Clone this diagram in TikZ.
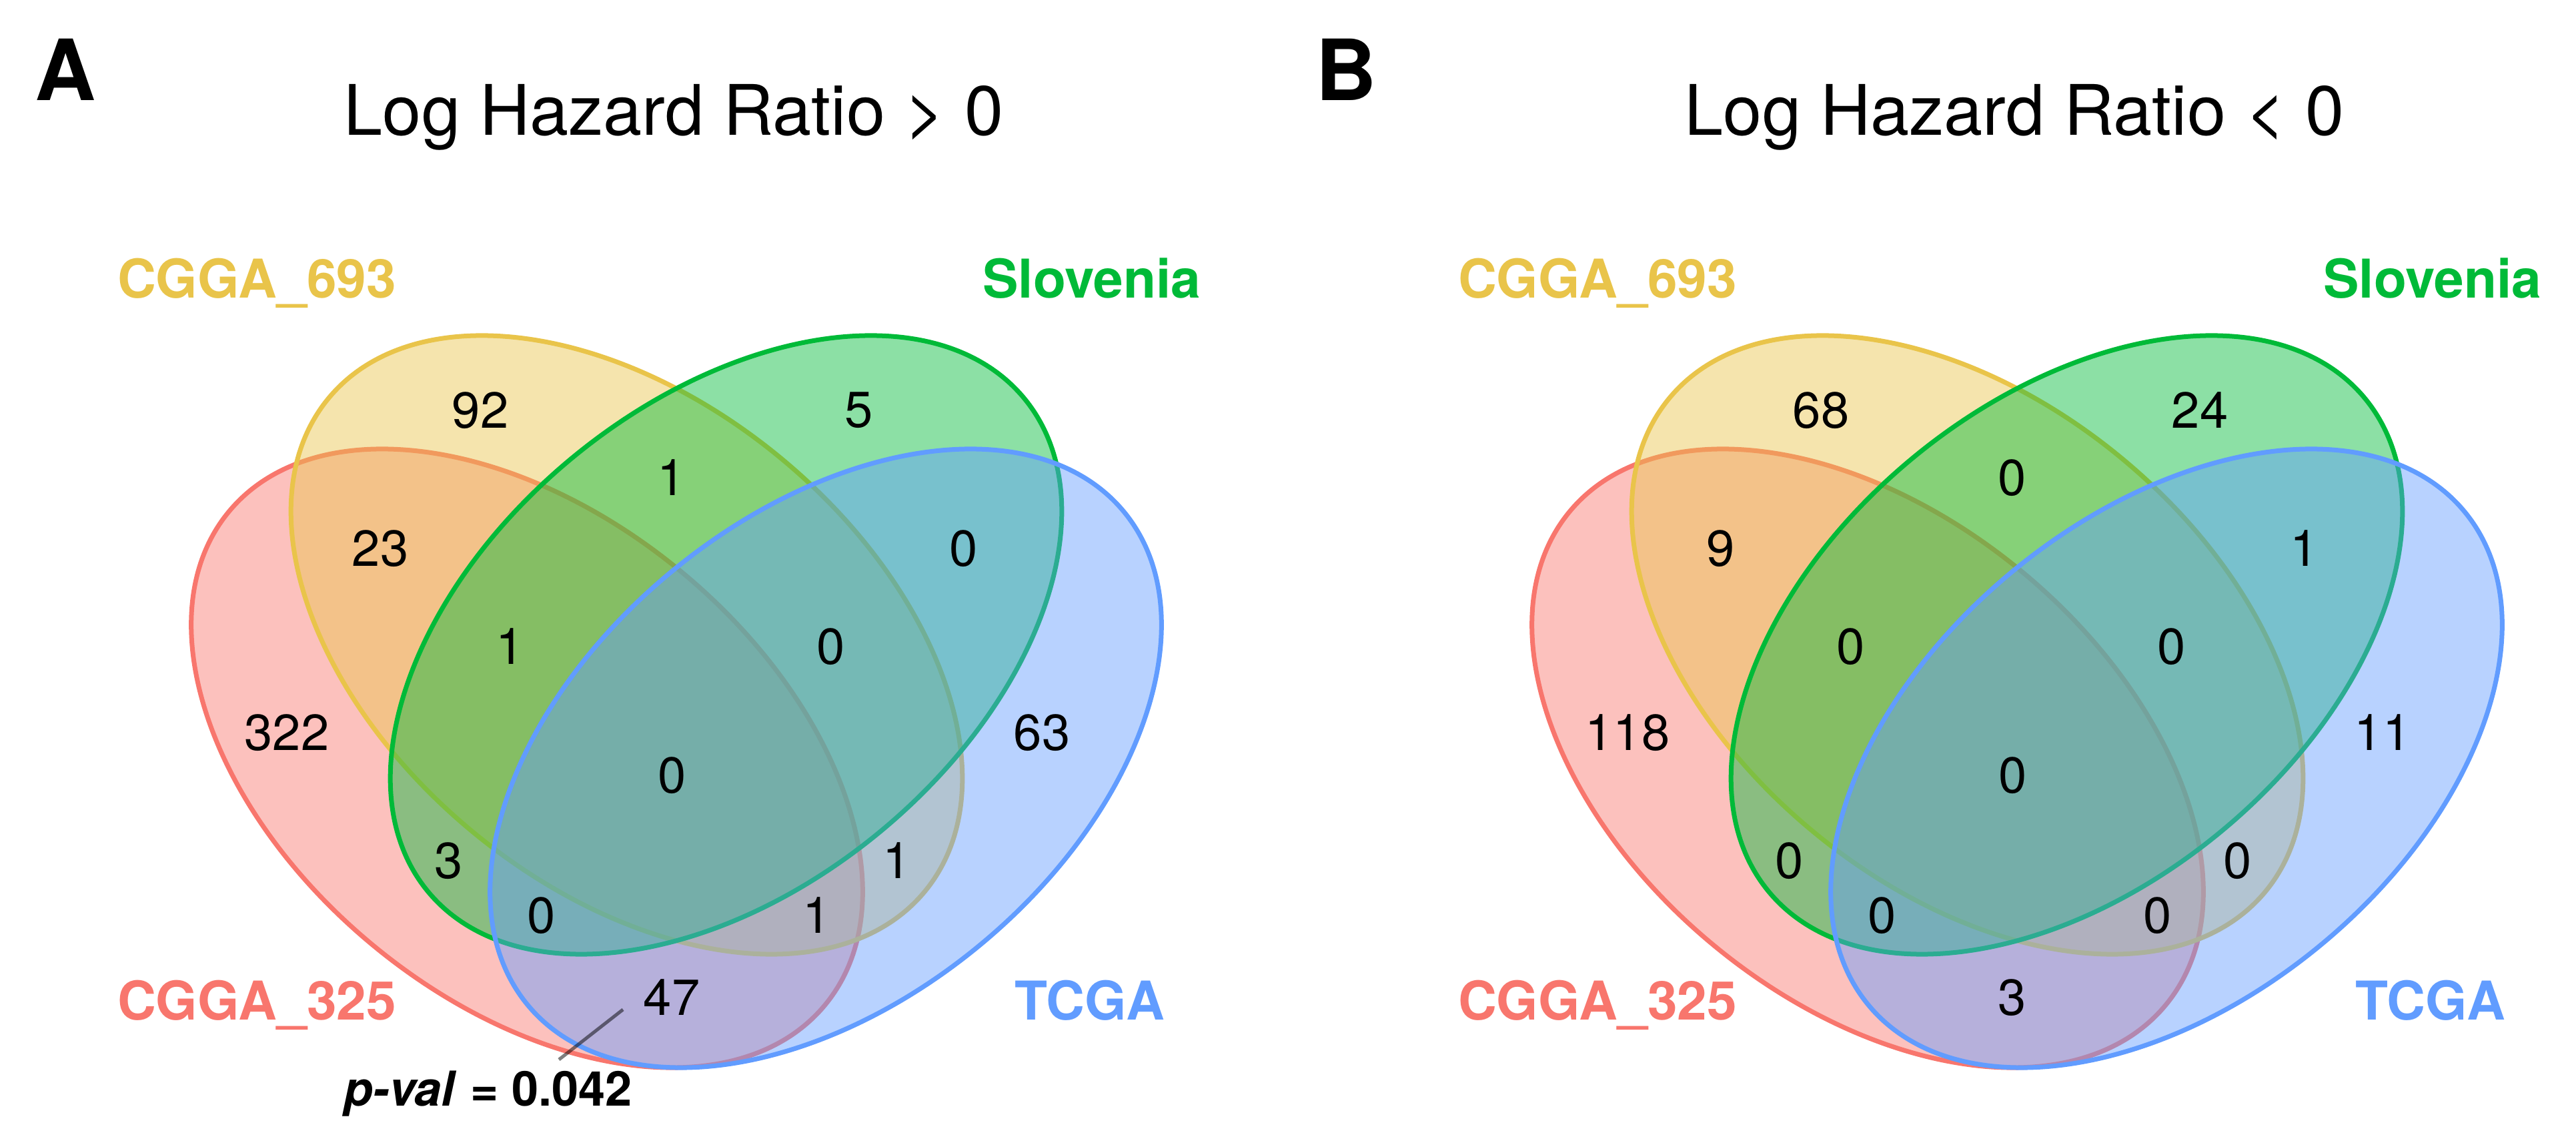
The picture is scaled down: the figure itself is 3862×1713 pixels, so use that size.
\documentclass[tikz,border=0pt]{standalone}
\usepackage{fontspec}
\setmainfont{TeX Gyre Heros}
\usetikzlibrary{positioning}

\begin{document}
\begin{tikzpicture}[x=0.01cm, y=-0.01cm,
  every node/.style={inner sep=0pt, outer sep=0pt},
  setshape/.style={line width=0.07cm, fill opacity=0.45},
  count/.style={font=\fontsize{21.6}{24}\selectfont},
  setname/.style={font=\fontsize{22.8}{26}\selectfont\bfseries},
  heading/.style={font=\fontsize{29.7}{33}\selectfont, anchor=base},
  panel/.style={font=\fontsize{36}{40}\selectfont\bfseries, anchor=base west},
  leader/.style={line width=0.05cm, draw=black, draw opacity=0.5}]
  \definecolor{c325}{HTML}{F8766D}
  \definecolor{c693}{RGB}{233,196,74}
  \definecolor{cslo}{HTML}{00BA38}
  \definecolor{ctcga}{HTML}{619CFF}

  \useasboundingbox (0,0) rectangle (3862,1713);

  % panel letters and headings
  \node[panel] (lblA) at (52,151) {A};
  \node[panel] (lblB) at (1972,151) {B};
  \node[heading] (headA) at (1010,203) {Log Hazard Ratio > 0};
  \node[heading] (headB) at (3020,203) {Log Hazard Ratio < 0};

  % the four sets, same place in both panels
  \foreach \dx/\p in {0/a, 2010/b} {
    \foreach \cx/\cy/\ang/\col in {790/1136.5/-39.6/c325, 939.5/966.5/-39.6/c693,
                                   1088.5/966.5/39.6/cslo, 1238/1136.5/39.6/ctcga}
      \draw[setshape, draw=\col, fill=\col, rotate around={\ang:(\cx+\dx,\cy)}]
        (\cx+\dx,\cy) ellipse [x radius=580, y radius=363];

    \node[setname, text=c693, anchor=base west] (\p693) at (176+\dx,447) {CGGA\_693};
    \node[setname, text=cslo, anchor=base east] (\p slo) at (1800+\dx,447) {Slovenia};
    \node[setname, text=c325, anchor=base west] (\p325) at (176+\dx,1528) {CGGA\_325};
    \node[setname, text=ctcga, anchor=base east] (\p tcga) at (1746+\dx,1528) {TCGA};
  }

  % region counts (panel A / panel B)
  \foreach \k/\x/\y/\na/\nb in {1/720/615/92/68, 2/1288/615/5/24, 3/1007/716/1/0,
      4/570/822/23/9, 5/1445/822/0/1, 6/765/969/1/0, 7/1246/969/0/0,
      8/430/1098/322/118, 9/1562/1098/63/11, 10/1008/1162/0/0,
      11/673/1290/3/0, 12/1345/1290/1/0, 13/812/1372/0/0, 14/1225/1372/1/0,
      15/1007/1495/47/3} {
    \node[count] (a\k) at (\x,\y) {\na};
    \node[count] (b\k) at (\x+2010,\y) {\nb};
  }

  % p-value of the CGGA_325 / TCGA overlap
  \node[font=\fontsize{20.5}{23}\selectfont\bfseries, anchor=base west]
    (pval) at (515,1657) {\textit{p-val} = 0.042};
  \coordinate (pin) at (934,1513);
  \coordinate (pinend) at (838,1588);
  \draw[leader] (pin) -- (pinend);
\end{tikzpicture}
\end{document}
